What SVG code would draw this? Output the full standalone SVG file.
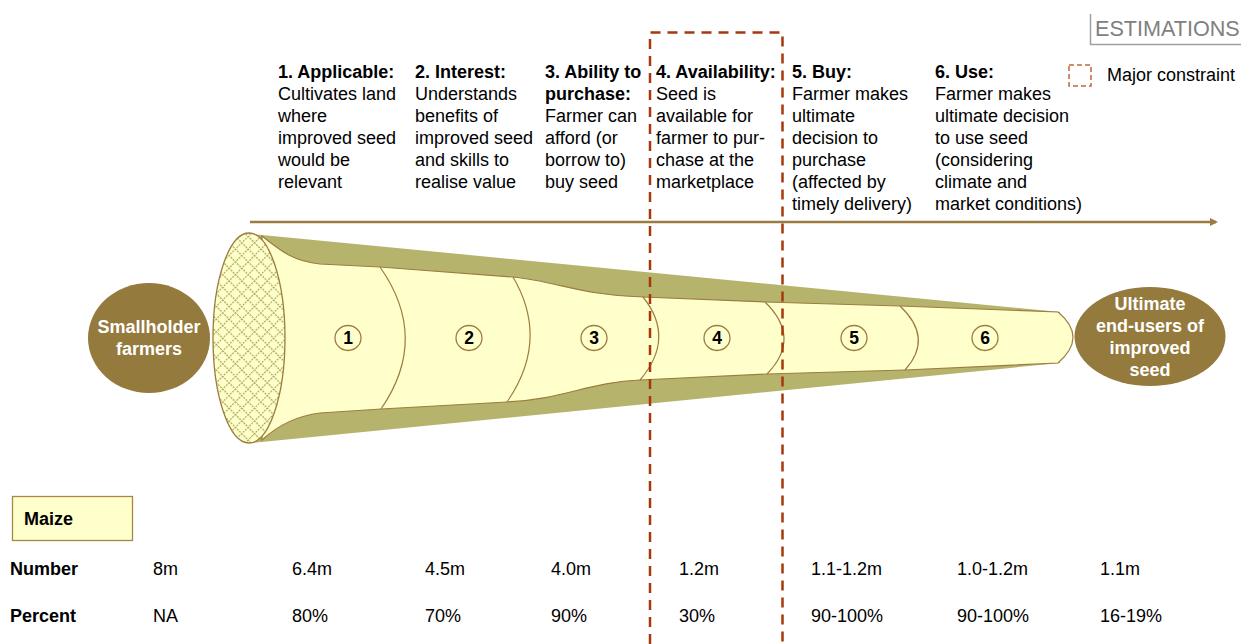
<svg xmlns="http://www.w3.org/2000/svg" width="1241" height="644" viewBox="0 0 1241 644">
<defs>
<style>
text{font-family:"Liberation Sans",Arial,sans-serif;font-size:18px;fill:#000}
.b{font-weight:bold}
.w{fill:#fff;font-weight:bold;text-anchor:middle}
.n{font-weight:bold;text-anchor:middle;font-size:17.5px}
.div{fill:none;stroke:#9c7c40;stroke-width:1.2}
.num{fill:#ffffcc;stroke:#9c7c40;stroke-width:1.3}
.node{fill:#957a3d}
</style>
<pattern id="hatch" width="9" height="9" patternUnits="userSpaceOnUse" patternTransform="rotate(45)">
<rect width="9" height="9" fill="#ffffcc"/>
<path d="M0 0.5H9M0.5 0V9" stroke="#aaa85c" stroke-width="1.3" stroke-dasharray="2 1"/>
</pattern>
<marker id="ah" markerWidth="8" markerHeight="8" refX="6" refY="4" orient="auto" markerUnits="userSpaceOnUse">
<path d="M0 0L8 4L0 8Z" fill="#9b7b3e"/>
</marker>
</defs>
<rect width="1241" height="644" fill="#fff"/>

<g id="estimations">
<path d="M1090.5 14V44.5H1241" fill="none" stroke="#a0a0a0" stroke-width="1.5"/>
<text x="1095" y="36" style="font-size:21.6px;fill:#808080">ESTIMATIONS</text>
</g>

<g id="legend">
<rect x="1069" y="65" width="22" height="21" fill="none" stroke="#c0683a" stroke-width="1.5" stroke-dasharray="5 3"/>
<text x="1107" y="81" style="font-size:18px">Major constraint</text>
</g>

<g id="headers">
<text x="278" y="78"><tspan class="b">1. Applicable:</tspan><tspan x="278" dy="22">Cultivates land</tspan><tspan x="278" dy="22">where</tspan><tspan x="278" dy="22">improved seed</tspan><tspan x="278" dy="22">would be</tspan><tspan x="278" dy="22">relevant</tspan></text>
<text x="415" y="78"><tspan class="b">2. Interest:</tspan><tspan x="415" dy="22">Understands</tspan><tspan x="415" dy="22">benefits of</tspan><tspan x="415" dy="22">improved seed</tspan><tspan x="415" dy="22">and skills to</tspan><tspan x="415" dy="22">realise value</tspan></text>
<text x="545" y="78"><tspan class="b">3. Ability to</tspan><tspan x="545" dy="22" class="b">purchase:</tspan><tspan x="545" dy="22">Farmer can</tspan><tspan x="545" dy="22">afford (or</tspan><tspan x="545" dy="22">borrow to)</tspan><tspan x="545" dy="22">buy seed</tspan></text>
<text x="656" y="78"><tspan class="b">4. Availability:</tspan><tspan x="656" dy="22">Seed is</tspan><tspan x="656" dy="22">available for</tspan><tspan x="656" dy="22">farmer to pur-</tspan><tspan x="656" dy="22">chase at the</tspan><tspan x="656" dy="22">marketplace</tspan></text>
<text x="792" y="78"><tspan class="b">5. Buy:</tspan><tspan x="792" dy="22">Farmer makes</tspan><tspan x="792" dy="22">ultimate</tspan><tspan x="792" dy="22">decision to</tspan><tspan x="792" dy="22">purchase</tspan><tspan x="792" dy="22">(affected by</tspan><tspan x="792" dy="22">timely delivery)</tspan></text>
<text x="935" y="78"><tspan class="b">6. Use:</tspan><tspan x="935" dy="22">Farmer makes</tspan><tspan x="935" dy="22">ultimate decision</tspan><tspan x="935" dy="22">to use seed</tspan><tspan x="935" dy="22">(considering</tspan><tspan x="935" dy="22">climate and</tspan><tspan x="935" dy="22">market conditions)</tspan></text>
</g>

<g id="funnel">
<path d="M252 234L1060 312L1060 363L252 443Z" fill="#b6b46c"/>
<path d="M262 236C280 250 292 261 320 264L380 267L513 277C555 281 585 296 643 297L765 302L900 306L1058 312Q1088 337 1058 363L905 370L767 374L640 380C590 382 560 400 507 402L381 409L320 413C295 416 275 428 262 440Z" fill="#ffffcc" stroke="#9c7c40" stroke-width="1.2"/>
<path class="div" d="M380 267Q430 338 381 409"/>
<path class="div" d="M513 277Q550 340 507 402"/>
<path class="div" d="M643 297Q676 338 640 380"/>
<path class="div" d="M765 302Q802 338 767 374"/>
<path class="div" d="M900 306Q934 338 905 370"/>
<ellipse cx="249" cy="338" rx="36" ry="105" fill="url(#hatch)" stroke="#9c7c40" stroke-width="1.3"/>
</g>

<g id="stage1"><ellipse class="num" cx="348" cy="338" rx="13" ry="12.5"/><text class="n" x="348" y="344">1</text></g>
<g id="stage2"><ellipse class="num" cx="469" cy="338" rx="13" ry="12.5"/><text class="n" x="469" y="344">2</text></g>
<g id="stage3"><ellipse class="num" cx="594" cy="338" rx="13" ry="12.5"/><text class="n" x="594" y="344">3</text></g>
<g id="stage4"><ellipse class="num" cx="717" cy="338" rx="13" ry="12.5"/><text class="n" x="717" y="344">4</text></g>
<g id="stage5"><ellipse class="num" cx="854" cy="338" rx="13" ry="12.5"/><text class="n" x="854" y="344">5</text></g>
<g id="stage6"><ellipse class="num" cx="985" cy="338" rx="13" ry="12.5"/><text class="n" x="985" y="344">6</text></g>

<g id="smallholder">
<ellipse class="node" cx="149" cy="338" rx="61" ry="55"/>
<text class="w" x="149" y="333">Smallholder</text>
<text class="w" x="149" y="355">farmers</text>
</g>

<g id="endusers">
<ellipse class="node" cx="1150" cy="336.5" rx="75.5" ry="49.5"/>
<text class="w" x="1150" y="310">Ultimate</text>
<text class="w" x="1150" y="332">end-users of</text>
<text class="w" x="1150" y="354">improved</text>
<text class="w" x="1150" y="376">seed</text>
</g>

<g id="connectors">
<line x1="250" y1="222" x2="1216" y2="222" stroke="#9b7b3e" stroke-width="2.5" marker-end="url(#ah)"/>
</g>

<g id="constraint">
<path d="M650 644V32.5H782.5V644" fill="none" stroke="#a5390b" stroke-width="2.5" stroke-dasharray="10 7"/>
</g>

<g id="table">
<rect x="12.5" y="496.5" width="120" height="44" fill="#ffffcc" stroke="#a8883e" stroke-width="1.3"/>
<text class="b" x="24" y="525">Maize</text>
<text class="b" x="10" y="575">Number</text>
<text class="b" x="10" y="622">Percent</text>
<text x="153" y="575">8m</text><text x="153" y="622">NA</text>
<text x="292" y="575">6.4m</text><text x="292" y="622">80%</text>
<text x="425" y="575">4.5m</text><text x="425" y="622">70%</text>
<text x="551" y="575">4.0m</text><text x="551" y="622">90%</text>
<text x="679" y="575">1.2m</text><text x="679" y="622">30%</text>
<text x="811" y="575">1.1-1.2m</text><text x="811" y="622">90-100%</text>
<text x="957" y="575">1.0-1.2m</text><text x="957" y="622">90-100%</text>
<text x="1100" y="575">1.1m</text><text x="1100" y="622">16-19%</text>
</g>
</svg>
